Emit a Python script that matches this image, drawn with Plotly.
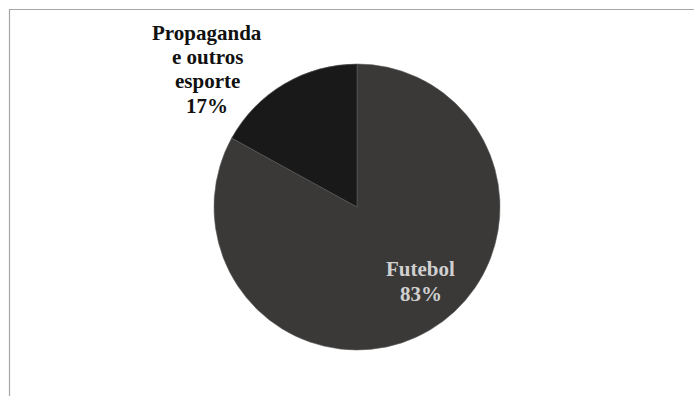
import plotly.graph_objects as go

labels = ["Futebol", "Propaganda e outros esporte"]
label_lines = [["Futebol"], ["Propaganda", "e outros", "esporte"]]
values = [83, 17]
colors = ["#3a3938", "#191919"]
label_colors = ["#d0d0d0", "#111111"]
label_x = [420.5, 207]          # pixel x centers of label blocks
label_first_y = [268.5, 33]     # pixel y center of first line
line_step = [25.5, 24.2]

W, H = 694, 396
cx, cy, r = 357, 207, 143
FONT = "Times New Roman, Liberation Serif, serif"

fig = go.Figure(go.Pie(
    labels=labels,
    values=values,
    sort=False,
    direction="clockwise",
    rotation=0,
    marker=dict(colors=colors, line=dict(color="#5a5a5a", width=0.6)),
    textinfo="none",
    hoverinfo="label+percent",
    showlegend=False,
    domain=dict(x=[(cx - r) / W, (cx + r) / W],
                y=[(H - cy - r) / H, (H - cy + r) / H]),
))

total = sum(values)
for lines, v, col, px, py0, step in zip(label_lines, values, label_colors,
                                        label_x, label_first_y, line_step):
    all_lines = lines + [f"{round(100 * v / total)}%"]
    for i, t in enumerate(all_lines):
        fig.add_annotation(
            x=px / W, y=1 - (py0 + i * step) / H, xref="paper", yref="paper",
            text=f"<b>{t}</b>",
            showarrow=False, align="center",
            font=dict(family=FONT, size=21, color=col),
            xanchor="center", yanchor="middle",
        )

# chart-area frame (left and top edges visible)
fig.add_shape(type="rect", xref="paper", yref="paper",
              x0=9.5 / W, x1=1.2, y0=-0.2, y1=1 - 9.5 / H,
              line=dict(color="#a6a6a6", width=1.2), fillcolor="rgba(0,0,0,0)")

fig.update_layout(
    width=W, height=H,
    margin=dict(l=0, r=0, t=0, b=0),
    paper_bgcolor="white", plot_bgcolor="white",
    font=dict(family=FONT),
)

fig.write_html("out.html")
